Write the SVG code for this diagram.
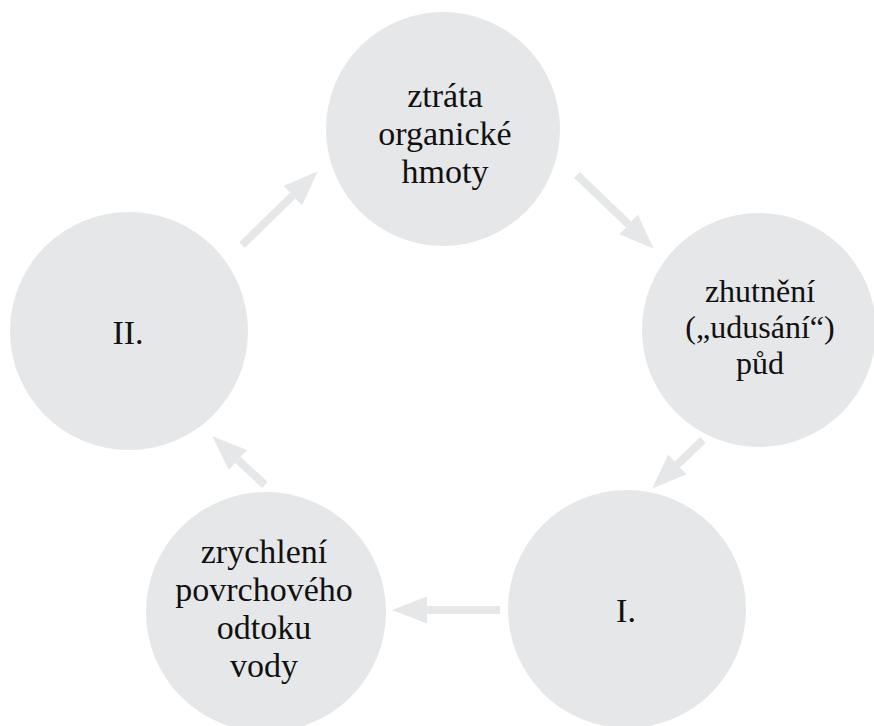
<svg xmlns="http://www.w3.org/2000/svg" width="874" height="726" viewBox="0 0 874 726">
<defs>
<style>
.node circle{fill:#e6e7e8}
.node text{font-family:"Liberation Serif","DejaVu Serif",serif;font-size:34px;fill:#111;text-anchor:middle}
#node-right text{font-size:32px}
.conn line{stroke:#e6e7e8;stroke-width:8;fill:none}
</style>
<marker id="ah" markerUnits="userSpaceOnUse" markerWidth="35" markerHeight="27" refX="0" refY="13.5" orient="auto">
<path d="M0,0 L35,13.5 L0,27 z" fill="#e6e7e8"/>
</marker>
</defs>
<rect width="874" height="726" fill="#fff"/>
<g id="connectors" class="conn">
<line x1="242" y1="245" x2="292.7" y2="195.7" marker-end="url(#ah)"/>
<line x1="577" y1="175" x2="628.5" y2="224.4" marker-end="url(#ah)"/>
<line x1="703" y1="440" x2="677.5" y2="464.4" marker-end="url(#ah)"/>
<line x1="500" y1="610" x2="427" y2="610" marker-end="url(#ah)"/>
<line x1="265" y1="485" x2="238" y2="460" marker-end="url(#ah)"/>
</g>
<g id="node-top" class="node">
<circle cx="443" cy="129" r="117"/>
<text x="445" y="107">ztráta</text>
<text x="445" y="145">organické</text>
<text x="445" y="183">hmoty</text>
</g>
<g id="node-right" class="node">
<circle cx="759" cy="330" r="117"/>
<text x="760" y="302">zhutnění</text>
<text x="760" y="338">(„udusání“)</text>
<text x="760" y="374">půd</text>
</g>
<g id="node-I" class="node">
<circle cx="627" cy="609" r="119"/>
<text x="626" y="622">I.</text>
</g>
<g id="node-bottom-left" class="node">
<circle cx="266" cy="612" r="120"/>
<text x="264" y="563">zrychlení</text>
<text x="264" y="601">povrchového</text>
<text x="264" y="639">odtoku</text>
<text x="264" y="677">vody</text>
</g>
<g id="node-II" class="node">
<circle cx="129" cy="331" r="119"/>
<text x="128" y="344">II.</text>
</g>
</svg>
